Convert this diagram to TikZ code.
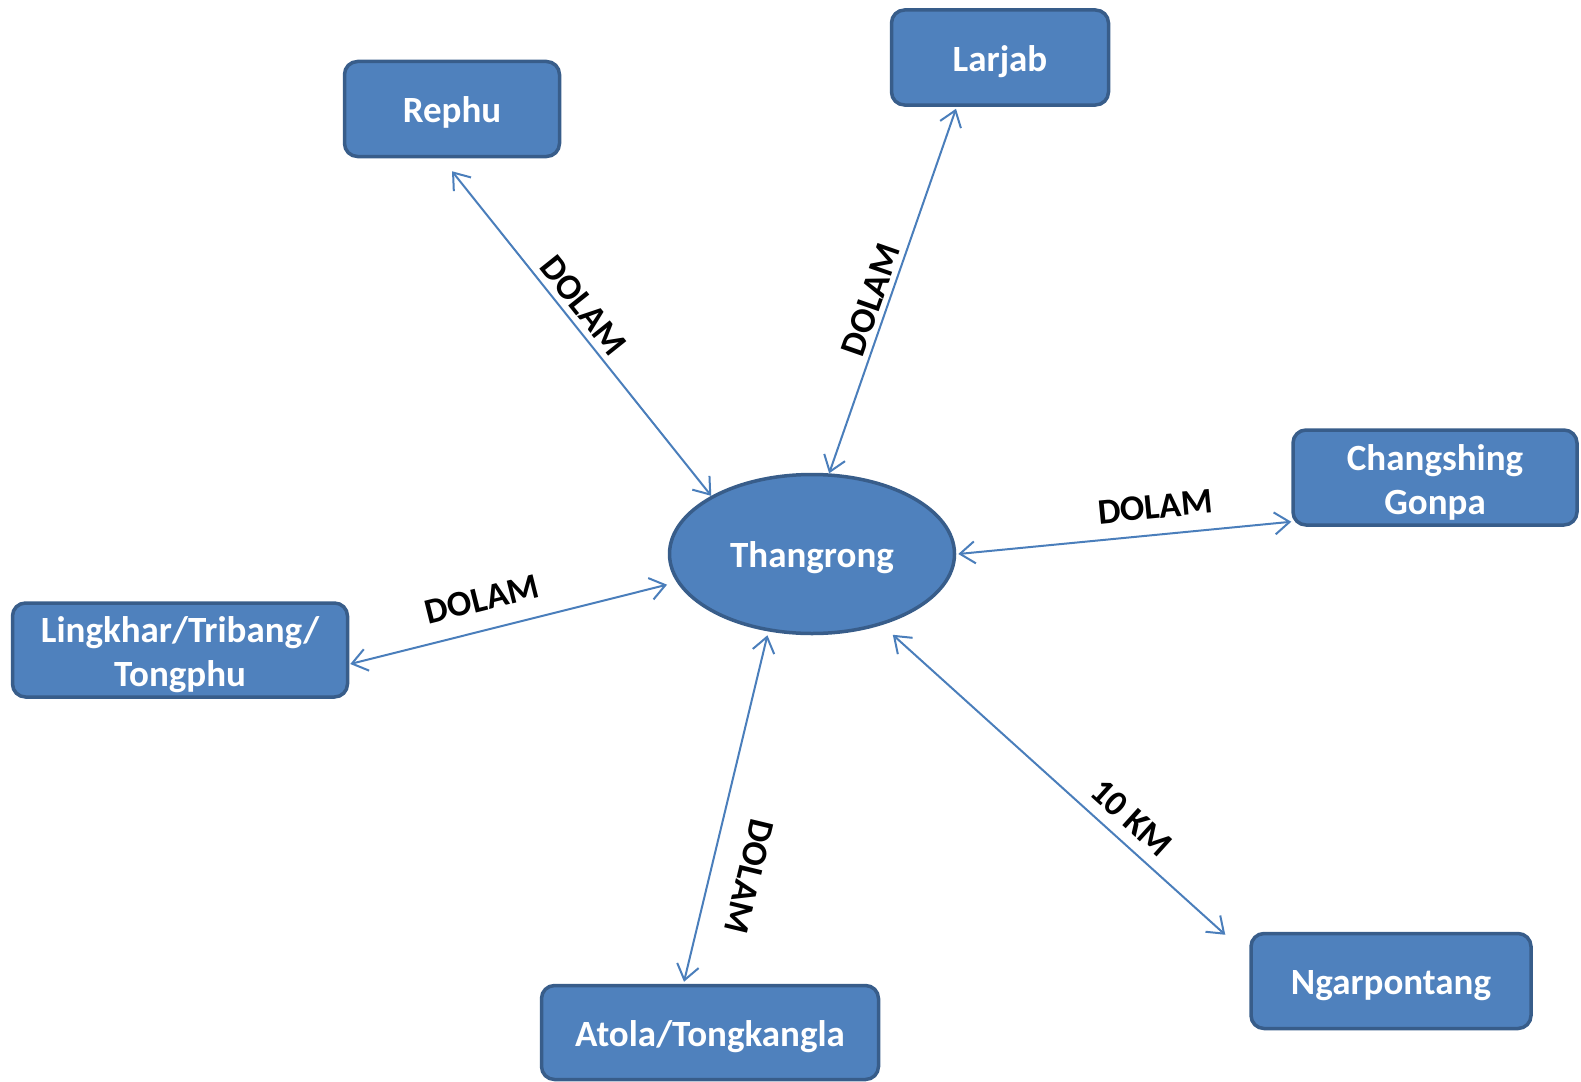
\documentclass[tikz,border=0pt]{standalone}
\usepackage{fontspec}
\setmainfont{Carlito}
\usetikzlibrary{shapes.geometric,arrows.meta}
\definecolor{boxblue}{HTML}{4F81BD}
\definecolor{boxedge}{HTML}{385D8A}
\definecolor{roadblue}{HTML}{4A7EBB}
\newcommand{\boxstrut}[1][43.5pt]{\rule[-8pt]{0pt}{#1}}

\begin{document}
\begin{tikzpicture}[x=1pt, y=-1pt,
    >={Straight Barb[length=15pt,width=22pt]},
    village/.style={draw=boxedge, fill=boxblue, line width=3.5pt, rounded corners=13pt,
        text=white, font=\bfseries\fontsize{37}{44}\selectfont, align=center, inner sep=0pt,
        execute at begin node=\boxstrut},
    hub/.style={ellipse, draw=boxedge, fill=boxblue, line width=3.5pt, text=white,
        font=\bfseries\fontsize{37}{44}\selectfont, inner sep=0pt,
        minimum width=285pt, minimum height=159pt, execute at begin node=\boxstrut},
    road/.style={draw=roadblue, line width=2pt, <->},
    dist/.style={sloped, font=\bfseries\fontsize{36}{43}\selectfont, inner sep=2pt}]
    \useasboundingbox (0,0) rectangle (1581,1081);

    \node[hub] (thang) at (812,554) {Thangrong};
    \node[village, minimum width=215pt, minimum height=95pt] (rephu) at (452,109) {Rephu};
    \node[village, minimum width=217pt, minimum height=95pt] (larjab) at (1000,57.5) {Larjab};
    \node[village, minimum width=284pt, minimum height=95pt] (chang) at (1435,477.5) {\boxstrut[45.75pt]Changshing\\Gonpa};
    \node[village, minimum width=335pt, minimum height=94pt] (ling) at (180,650) {\boxstrut[45.75pt]Lingkhar/Tribang/\\Tongphu};
    \node[village, minimum width=337pt, minimum height=94pt] (atola) at (710,1032.5) {Atola/Tongkangla};
    \node[village, minimum width=280pt, minimum height=95pt] (ngar) at (1391,981) {Ngarpontang};

    \draw[road] ([yshift=-13pt]rephu.south) -- (thang.150) node[dist, pos=0.45, above=4pt] {DOLAM};
    \draw[road] (thang.78) -- ([xshift=-44pt,yshift=-2pt]larjab.south) node[dist, pos=0.46, above=3pt] {DOLAM};
    \draw[road] ([xshift=2pt]thang.0) -- ([yshift=5pt]chang.south west) node[dist, pos=0.6, above=13pt] {DOLAM};
    \draw[road] ([xshift=1pt,yshift=-14pt]ling.east) -- ([xshift=-10pt,yshift=-2pt]thang.192) node[dist, pos=0.44, above=16pt] {DOLAM};
    \draw[road] ([yshift=-4pt]thang.240) -- ([xshift=-26pt,yshift=2pt]atola.north) node[dist, allow upside down, pos=0.67, above=24pt] {DOLAM};
    \draw[road] ([xshift=10pt,yshift=-10pt]thang.-45) -- ([xshift=-24pt,yshift=-3pt]ngar.north west) node[dist, pos=0.67, above=9pt] {10 KM};
\end{tikzpicture}
\end{document}
